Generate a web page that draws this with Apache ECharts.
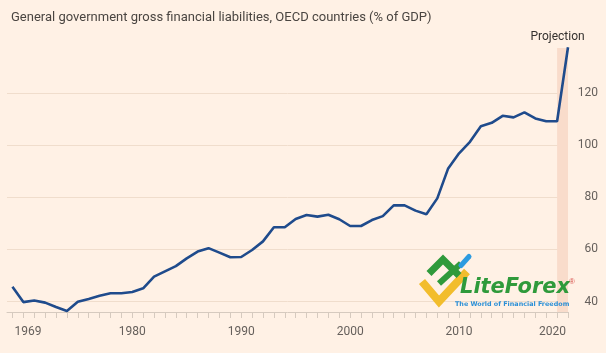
<!DOCTYPE html>
<html>
<head>
<meta charset="utf-8">
<script src="https://cdn.jsdelivr.net/npm/echarts@6/dist/echarts.min.js"></script>
<style>
  html, body { margin: 0; padding: 0; background: #fff1e5; }
  #chart { width: 606px; height: 353px; }
</style>
</head>
<body>
<div id="chart"></div>
<script>
// years on the x axis
const years = [
  1969, 1970, 1971, 1972, 1973, 1974, 1975, 1976, 1977, 1978,
  1979, 1980, 1981, 1982, 1983, 1984, 1985, 1986, 1987, 1988,
  1989, 1990, 1991, 1992, 1993, 1994, 1995, 1996, 1997, 1998,
  1999, 2000, 2001, 2002, 2003, 2004, 2005, 2006, 2007, 2008,
  2009, 2010, 2011, 2012, 2013, 2014, 2015, 2016, 2017, 2018,
  2019, 2020
];
// gross financial liabilities, % of GDP
const debt = [
  45.7, 39.8, 40.4, 39.6, 37.9, 36.4, 39.9, 41.0, 42.2, 43.2,
  43.2, 43.7, 45.1, 49.6, 51.6, 53.6, 56.6, 59.2, 60.5, 58.8,
  57.0, 57.1, 59.8, 63.1, 68.5, 68.5, 71.7, 73.2, 72.6, 73.3,
  71.6, 69.0, 69.0, 71.3, 72.8, 76.9, 76.9, 74.9, 73.5, 79.6,
  91.1, 96.9, 101.3, 107.3, 108.6, 111.3, 110.7, 112.6, 110.3, 109.2,
  109.2, 137.6
];
const yearLabels = [1969, 1980, 1990, 2000, 2010, 2020];
const valueLabels = [40, 60, 80, 100, 120];
const projection = [2019, 2020];

const chart = echarts.init(document.getElementById("chart"));

const font = "Roboto, 'Noto Sans', sans-serif";

const option = {
  backgroundColor: "#fff1e5",
  animation: false,
  title: {
    text: "General government gross financial liabilities, OECD countries (% of GDP)",
    left: 6,
    top: 6,
    textStyle: {
      fontFamily: font,
      fontSize: 13,
      fontWeight: "normal",
      color: "#4a4541",
    },
  },
  grid: {
    left: 7,
    right: 38,
    top: 41,
    bottom: 41,
    containLabel: false,
    outerBoundsMode: "none",
  },
  xAxis: {
    type: "value",
    min: 1968.5,
    max: 2020,
    axisLine: { show: true, lineStyle: { color: "#d6cabf", width: 1 } },
    axisTick: {
      show: true,
      length: 6,
      customValues: years,
      lineStyle: { color: "#d6cabf" },
    },
    splitLine: { show: false },
    axisLabel: {
      customValues: yearLabels,
      margin: 14,
      color: "#66605c",
      fontFamily: font,
      fontSize: 12,
      formatter: function (v) {
        if (v === yearLabels[0]) return "{l|" + v + "}";
        if (v === yearLabels[yearLabels.length - 1]) return "{r|" + v + "}";
        return String(v);
      },
      rich: {
        l: { width: 58, align: "right", color: "#66605c", fontFamily: font, fontSize: 12 },
        r: { width: 58, align: "left", color: "#66605c", fontFamily: font, fontSize: 12 },
      },
    },
  },
  yAxis: {
    type: "value",
    position: "right",
    min: 36,
    max: 140,
    axisLine: { show: false },
    axisTick: { show: false, customValues: valueLabels },
    splitLine: { show: true, lineStyle: { color: "#f0ddcc", width: 1 } },
    axisLabel: {
      customValues: valueLabels,
      margin: 30,
      align: "right",
      color: "#66605c",
      fontFamily: font,
      fontSize: 12,
    },
  },
  series: [
    {
      type: "line",
      data: years.map((y, i) => [y, debt[i]]),
      showSymbol: false,
      lineStyle: { color: "#1f4b8c", width: 2.6 },
      z: 3,
      markArea: {
        silent: true,
        itemStyle: { color: "#f9dccb" },
        label: {
          show: true,
          position: "top",
          distance: 5,
          offset: [-5, 0],
          color: "#33302e",
          fontFamily: font,
          fontSize: 12,
        },
        data: [
          [
            { name: "Projection", xAxis: projection[0], yAxis: 36 },
            { xAxis: projection[1], yAxis: 137.3 },
          ],
        ],
      },
    },
  ],
  // watermark logo
  graphic: [
    {
      type: "group",
      left: 418,
      top: 254,
      zlevel: 1,
      z: 100,
      children: [
        {
          type: "polyline",
          z: 100,
          shape: { points: [[5, 28], [22, 48], [50, 18]] },
          style: { stroke: "#f2bd2c", lineWidth: 8, fill: null },
        },
        {
          type: "polyline",
          z: 100,
          shape: { points: [[12, 20], [26, 6], [42, 22]] },
          style: { stroke: "#2f9a3b", lineWidth: 7, fill: null },
        },
        {
          type: "line",
          z: 100,
          shape: { x1: 22, y1: 30, x2: 44, y2: 10 },
          style: { stroke: "#2f9a3b", lineWidth: 6 },
        },
        {
          type: "line",
          z: 100,
          shape: { x1: 44, y1: 12, x2: 52, y2: 3 },
          style: { stroke: "#2d9be0", lineWidth: 5, lineCap: "round" },
        },
        {
          type: "text",
          z: 100,
          x: 43,
          y: 24,
          style: {
            text: "LiteForex",
            fill: "#2f9a3b",
            font: "italic bold 21px 'DejaVu Sans', sans-serif",
          },
        },
        {
          type: "text",
          z: 100,
          x: 152,
          y: 24,
          style: { text: "®", fill: "#d9534f", font: "8px sans-serif" },
        },
        {
          type: "text",
          z: 100,
          x: 38,
          y: 48,
          style: {
            text: "The World of Financial Freedom",
            fill: "#2b8fd6",
            font: "bold 6.4px 'DejaVu Sans', sans-serif",
          },
        },
      ],
    },
  ],
};

chart.setOption(option);
</script>
</body>
</html>
